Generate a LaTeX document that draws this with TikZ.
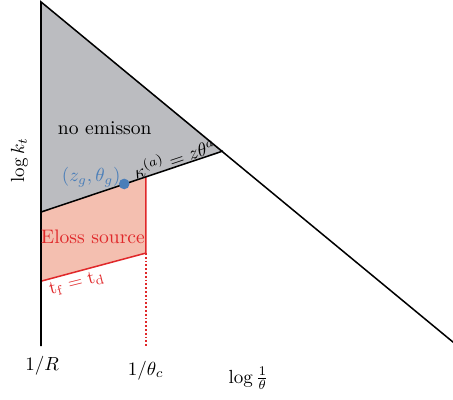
\documentclass[tikz,border=0pt]{standalone}
\usepackage{amsmath}
\definecolor{noemgray}{HTML}{BBBCC0}
\definecolor{elossfill}{HTML}{F4BFB0}
\definecolor{elossred}{HTML}{E0282A}
\definecolor{zgblue}{HTML}{4A7EB9}
\begin{document}
\begin{tikzpicture}[every node/.style={font=\fontsize{10.3}{12.5}\selectfont}]
    \useasboundingbox (-0.759,-0.981) rectangle (7.626,6.405);

    % no emission region
    \coordinate (top) at (0,6.37);
    \coordinate (cross) at (3.37,3.61);
    \coordinate (low) at (0,2.48);
    \fill[noemgray] (top) -- (cross) -- (low) -- cycle;

    % Eloss source region
    \coordinate (ctop) at (1.94,3.13);
    \coordinate (cbot) at (1.94,1.72);
    \coordinate (tfl) at (0,1.20);
    \coordinate (cax) at (1.94,0);
    \fill[elossfill] (low) -- (ctop) -- (cbot) -- (tfl) -- cycle;
    \draw[elossred, thick] (ctop) -- (cbot) -- (tfl);
    \draw[elossred, line width=0.8pt, dash pattern=on 0.9pt off 1.1pt] (cbot) -- (cax);

    % lines
    \coordinate (orig) at (0,0);
    \coordinate (far) at (7.63,0.07);
    \draw[thick] (orig) -- (top) -- (far);
    \draw[thick] (low) -- (cross);

    % point
    \fill[zgblue] (1.54,3.0) circle (2.8pt);

    \node (noem) at (1.18,4.04) {no emisson};
    \node[elossred] (eloss) at (0.96,2.02) {Eloss source};
    \node[zgblue] (zg) at (0.93,3.13) {\((z_g,\theta_g)\)};
    \node[rotate=18.5, anchor=south, inner sep=0.3pt, font=\fontsize{9.6}{11}\selectfont] (kappa) at (2.52,3.325) {\(\kappa^{(a)} = z\theta^a\)};
    \node[elossred, rotate=14, anchor=north, inner sep=1pt] (tf) at (0.62,1.33) {\(\mathrm{t}_\mathrm{f} = \mathrm{t}_\mathrm{d}\)};

    % axis labels
    \node (R) at (0.02,-0.36) {\(1/R\)};
    \node (thc) at (1.94,-0.45) {\(1/\theta_c\)};
    \node (xlab) at (3.84,-0.60) {\(\log\frac{1}{\theta}\)};
    \node[rotate=90] (ylab) at (-0.40,3.44) {\(\log k_t\)};
\end{tikzpicture}
\end{document}
